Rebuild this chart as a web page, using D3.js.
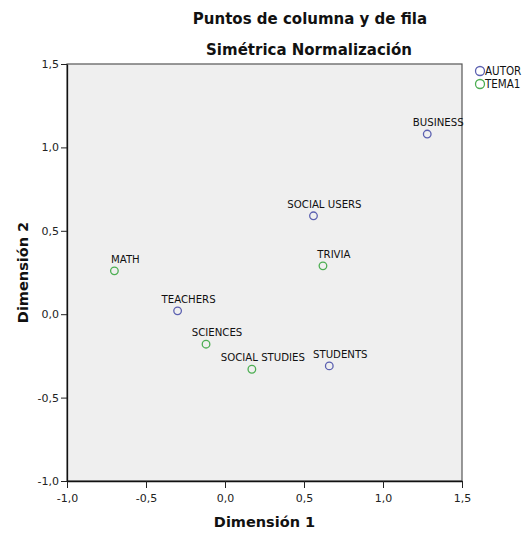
<!DOCTYPE html>
<html>
<head>
<meta charset="utf-8">
<script src="https://cdn.jsdelivr.net/npm/d3@7"></script>
<style>
  html, body { margin: 0; padding: 0; background: #ffffff; overflow: hidden; }
  svg { display: block; }
</style>
</head>
<body>
<script>
// ---- data ----
const labels = ["BUSINESS", "SOCIAL USERS", "TEACHERS", "STUDENTS", "TRIVIA", "MATH", "SCIENCES", "SOCIAL STUDIES"];
const groups = ["AUTOR", "AUTOR", "AUTOR", "AUTOR", "TEMA1", "TEMA1", "TEMA1", "TEMA1"];
const dim1 = [1.28, 0.56, -0.30, 0.66, 0.62, -0.70, -0.12, 0.17];
const dim2 = [1.08, 0.59, 0.02, -0.31, 0.29, 0.26, -0.18, -0.33];
const legendNames = ["AUTOR", "TEMA1"];
const xTicks = [-1.0, -0.5, 0.0, 0.5, 1.0, 1.5];
const yTicks = [-1.0, -0.5, 0.0, 0.5, 1.0, 1.5];
const titleLines = ["Puntos de columna y de fila", "Simétrica Normalización"];

const W = 523, H = 534;
const m = { left: 67, right: 61, top: 64, bottom: 53 };
const colors = { "AUTOR": "#5b60b0", "TEMA1": "#4cae52" };
const font = "'DejaVu Sans', sans-serif";

const svg = d3.select("body").append("svg").attr("width", W).attr("height", H);

const x = d3.scaleLinear().domain([-1, 1.5]).range([m.left, W - m.right]);
const y = d3.scaleLinear().domain([-1, 1.5]).range([H - m.bottom, m.top]);
const fmt = v => d3.format(".1f")(v).replace(".", ",").replace("−", "-");

// plot background
svg.append("rect")
  .attr("x", x(-1)).attr("y", y(1.5))
  .attr("width", x(1.5) - x(-1)).attr("height", y(-1) - y(1.5))
  .attr("fill", "#efefef").attr("stroke", "#555").attr("stroke-width", 1.2);

// axes
const xAxis = svg.append("g").attr("transform", `translate(0,${y(-1)})`)
  .call(d3.axisBottom(x).tickValues(xTicks).tickFormat(fmt).tickSize(7).tickSizeOuter(0));
const yAxis = svg.append("g").attr("transform", `translate(${x(-1)},0)`)
  .call(d3.axisLeft(y).tickValues(yTicks).tickFormat(fmt).tickSize(6).tickSizeOuter(0));
[xAxis, yAxis].forEach(g => {
  g.select(".domain").attr("stroke", "#111").attr("stroke-width", 1.3);
  g.selectAll(".tick line").attr("stroke", "#222").attr("stroke-width", 1);
  g.selectAll(".tick text").attr("fill", "#222").style("font-family", font).style("font-size", "11px");
});
xAxis.selectAll(".tick text").attr("dy", "0.71em").attr("y", 13);
yAxis.selectAll(".tick text").attr("x", -8);

// titles
svg.append("text").attr("x", 310).attr("y", 24).attr("text-anchor", "middle")
  .style("font-family", font).style("font-weight", "bold").style("font-size", "15px")
  .attr("fill", "#111").text(titleLines[0]);
svg.append("text").attr("x", 309).attr("y", 55).attr("text-anchor", "middle")
  .style("font-family", font).style("font-weight", "bold").style("font-size", "15px")
  .attr("fill", "#111").text(titleLines[1]);

// axis titles
svg.append("text").attr("x", (x(-1) + x(1.5)) / 2).attr("y", 527).attr("text-anchor", "middle")
  .style("font-family", font).style("font-weight", "bold").style("font-size", "14.5px")
  .attr("fill", "#111").text("Dimensión 1");
svg.append("text")
  .attr("transform", `translate(28,${(y(-1) + y(1.5)) / 2}) rotate(-90)`)
  .attr("text-anchor", "middle")
  .style("font-family", font).style("font-weight", "bold").style("font-size", "14.5px")
  .attr("fill", "#111").text("Dimensión 2");

// points
const data = labels.map((l, i) => ({ label: l, group: groups[i], d1: dim1[i], d2: dim2[i] }));
const pts = svg.append("g").selectAll("g").data(data).join("g");
pts.append("circle")
  .attr("cx", d => x(d.d1)).attr("cy", d => y(d.d2)).attr("r", 3.8)
  .attr("fill", "none").attr("stroke", d => colors[d.group]).attr("stroke-width", 1.3);
pts.append("text")
  .attr("x", d => x(d.d1) + 11).attr("y", d => y(d.d2) - 8)
  .attr("text-anchor", "middle")
  .style("font-family", "'DejaVu Sans Condensed', 'DejaVu Sans', sans-serif").style("font-size", "11.3px")
  .attr("fill", "#111").text(d => d.label);

// legend
const leg = svg.append("g").selectAll("g").data(legendNames).join("g")
  .attr("transform", (d, i) => `translate(480,${71 + i * 13})`);
leg.append("circle").attr("r", 4.5).attr("fill", "none")
  .attr("stroke", d => colors[d]).attr("stroke-width", 1.3);
leg.append("text").attr("x", 5).attr("dy", "0.36em")
  .style("font-family", "'DejaVu Sans Condensed', 'DejaVu Sans', sans-serif").style("font-size", "11.5px")
  .attr("fill", "#111").text(d => d);
</script>
</body>
</html>
